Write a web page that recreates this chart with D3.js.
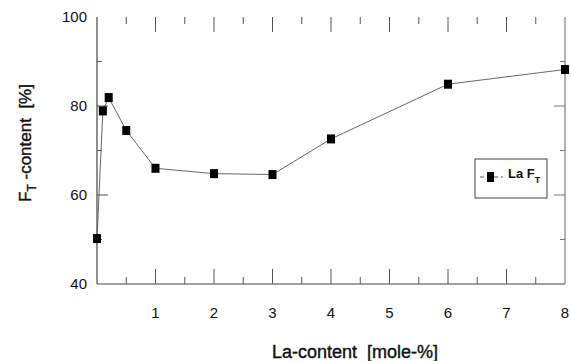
<meta charset="utf-8">
<title>La content vs FT content</title>
<body style="margin:0;background:#fff">
<script src="https://d3js.org/d3.v7.min.js"></script>
<script>
// data
var laContent = [0, 0.1, 0.2, 0.5, 1, 2, 3, 4, 6, 8];
var ftContent = [50.2, 78.9, 81.9, 74.5, 66, 64.8, 64.6, 72.6, 84.9, 88.2];
var xTicks = [1, 2, 3, 4, 5, 6, 7, 8];
var yTicks = [40, 60, 80, 100];

var width = 571, height = 361;
var mLeft = 97, mRight = 565, mTop = 17, mBottom = 284;

var x = d3.scaleLinear().domain([0, 8]).range([mLeft, mRight]);
var y = d3.scaleLinear().domain([40, 100]).range([mBottom, mTop]);

var svg = d3.select("body").append("svg")
    .attr("width", width)
    .attr("height", height)
    .style("display", "block")
    .style("font-family", "'Liberation Sans', Arial, sans-serif");

// axes lines
svg.append("line").attr("x1", mLeft).attr("x2", mLeft).attr("y1", mTop).attr("y2", mBottom)
    .style("stroke", "#444").style("stroke-width", 1.2);
svg.append("line").attr("x1", mLeft).attr("x2", mRight).attr("y1", mBottom).attr("y2", mBottom)
    .style("stroke", "#444").style("stroke-width", 1.2);
svg.append("line").attr("x1", mRight).attr("x2", mRight).attr("y1", mTop).attr("y2", mBottom)
    .style("stroke", "#999").style("stroke-width", 1.5);

// ticks on x (bottom up, top down)
d3.range(0.5, 8, 0.5).forEach(function(v) {
  var len = (v % 1 === 0) ? 15 : 7;
  svg.append("line").attr("x1", x(v)).attr("x2", x(v))
      .attr("y1", mBottom).attr("y2", mBottom - len)
      .style("stroke", "#555").style("stroke-width", 1);
  svg.append("line").attr("x1", x(v)).attr("x2", x(v))
      .attr("y1", mTop).attr("y2", mTop + len)
      .style("stroke", "#555").style("stroke-width", 1);
});

// ticks on y (inward)
d3.range(50, 100, 10).forEach(function(v) {
  var len = (v % 20 === 0) ? 11 : 5;
  svg.append("line").attr("x1", mLeft).attr("x2", mLeft + len)
      .attr("y1", y(v)).attr("y2", y(v))
      .style("stroke", "#555").style("stroke-width", 1);
  svg.append("line").attr("x1", mRight).attr("x2", mRight - len)
      .attr("y1", y(v)).attr("y2", y(v))
      .style("stroke", "#777").style("stroke-width", 1);
});

// tick labels
svg.selectAll(".xl").data(xTicks).enter().append("text")
    .attr("x", function(d) { return x(d); })
    .attr("y", 318)
    .attr("text-anchor", "middle")
    .style("font-size", "15px")
    .style("fill", "#111")
    .text(function(d) { return d; });

svg.selectAll(".yl").data(yTicks).enter().append("text")
    .attr("x", 87)
    .attr("y", function(d) { return y(d) + 5; })
    .attr("text-anchor", "end")
    .style("font-size", "15px")
    .style("fill", "#111")
    .text(function(d) { return d; });

// axis titles
svg.append("text")
    .attr("x", 355).attr("y", 358)
    .attr("text-anchor", "middle")
    .style("font-size", "18px").style("fill", "#111")
    .style("stroke", "#111").style("stroke-width", 0.4)
    .text("La-content\u00a0 [mole-%]");

var yt = svg.append("text")
    .attr("transform", "translate(31,143) rotate(-90)")
    .attr("text-anchor", "middle")
    .style("font-size", "17px").style("fill", "#111")
    .style("stroke", "#111").style("stroke-width", 0.4);
yt.append("tspan").text("F");
yt.append("tspan").attr("dy", 5).style("font-size", "12px").text("T");
yt.append("tspan").attr("dy", -5).text("\u00a0-content\u00a0 [%]");

// line + markers
var line = d3.line()
    .x(function(d, i) { return x(laContent[i]); })
    .y(function(d) { return y(d); });

svg.append("path")
    .datum(ftContent)
    .attr("d", line)
    .style("fill", "none")
    .style("stroke", "#555")
    .style("stroke-width", 0.9);

svg.selectAll(".pt").data(ftContent).enter().append("rect")
    .attr("x", function(d, i) { return x(laContent[i]) - 4; })
    .attr("y", function(d) { return y(d) - 4.5; })
    .attr("width", 8)
    .attr("height", 9)
    .style("fill", "#000");

// legend
var lg = svg.append("g").attr("transform", "translate(475,159)");
lg.append("rect").attr("width", 72).attr("height", 39)
    .style("fill", "#fff").style("stroke", "#444").style("stroke-width", 1);
lg.append("line").attr("x1", 5).attr("x2", 28).attr("y1", 18).attr("y2", 18)
    .style("stroke", "#555").style("stroke-dasharray", "4,3");
lg.append("rect").attr("x", 12).attr("y", 13).attr("width", 7).attr("height", 10).style("fill", "#000");
var lt = lg.append("text").attr("x", 33).attr("y", 19)
    .style("font-size", "13px").style("font-weight", "bold").style("fill", "#111");
lt.append("tspan").text("La F");
lt.append("tspan").attr("dy", 5).style("font-size", "9px").text("T");
</script>
</body>
